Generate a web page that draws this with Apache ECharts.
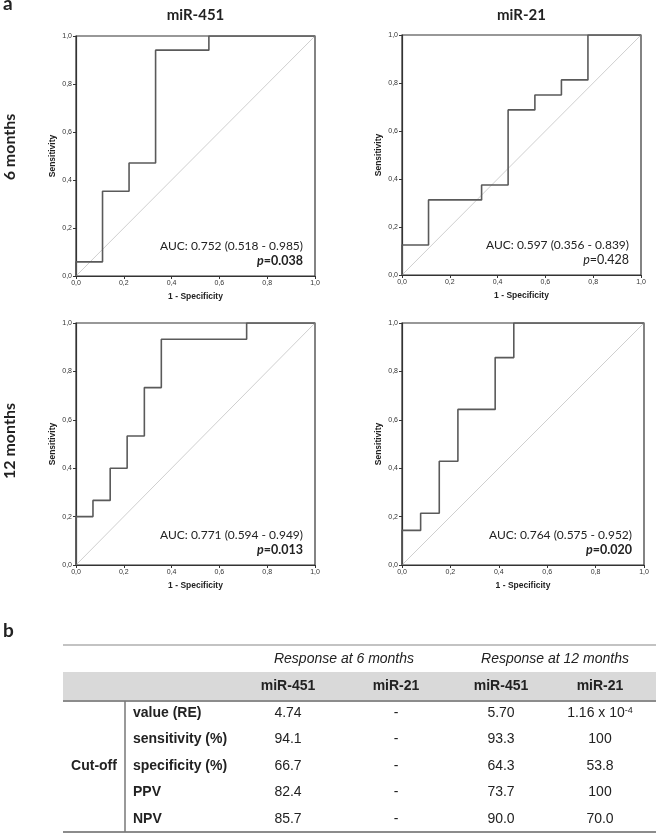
<!DOCTYPE html>
<html>
<head>
    <meta charset="UTF-8">
    <title>ROC miR-451 / miR-21</title>
    <script src="https://cdnjs.cloudflare.com/ajax/libs/echarts/6.0.0/echarts.min.js"></script>
    <style>
        body { margin: 0; background: #fff; }
        #chart { width: 658px; height: 834px; }
    </style>
</head>
<body>
<div id="chart"></div>
<script type="text/javascript">
    // ROC 曲线的点 (1 - 特异度, 灵敏度)
    var fpr451_6 = [0, 0, 0.111, 0.222, 0.333, 0.556, 1];
    var tpr451_6 = [0, 0.059, 0.353, 0.471, 0.941, 1, 1];
    var fpr21_6 = [0, 0, 0.111, 0.333, 0.444, 0.556, 0.667, 0.778, 1];
    var tpr21_6 = [0, 0.125, 0.313, 0.375, 0.688, 0.75, 0.813, 1, 1];
    var fpr451_12 = [0, 0, 0.071, 0.143, 0.214, 0.286, 0.357, 0.714, 1];
    var tpr451_12 = [0, 0.2, 0.267, 0.4, 0.533, 0.733, 0.933, 1, 1];
    var fpr21_12 = [0, 0, 0.077, 0.154, 0.231, 0.385, 0.462, 1];
    var tpr21_12 = [0, 0.143, 0.214, 0.429, 0.643, 0.857, 1, 1];

    var aucTexts = ['AUC: 0.752 (0.518 - 0.985)', 'AUC: 0.597 (0.356 - 0.839)',
                    'AUC: 0.771 (0.594 - 0.949)', 'AUC: 0.764 (0.575 - 0.952)'];
    var pValues = ['=0.038', '=0.428', '=0.013', '=0.020'];
    var pBold = [true, false, true, true];

    // 表格
    var groupHeads = ['Response at 6 months', 'Response at 12 months'];
    var colHeads = ['miR-451', 'miR-21', 'miR-451', 'miR-21'];
    var rowNames = ['value (RE)', 'sensitivity (%)', 'specificity (%)', 'PPV', 'NPV'];
    var col451_6 = ['4.74', '94.1', '66.7', '82.4', '85.7'];
    var col21_6 = ['-', '-', '-', '-', '-'];
    var col451_12 = ['5.70', '93.3', '64.3', '73.7', '90.0'];
    var col21_12 = ['1.16 x 10{sup|-4}', '100', '53.8', '100', '70.0'];

    var chart = echarts.init(document.getElementById('chart'));

    var grids = [
        {left: 76, top: 36, width: 239, height: 240},
        {left: 402, top: 35, width: 239, height: 240},
        {left: 76, top: 323, width: 239, height: 242},
        {left: 402, top: 323, width: 242, height: 242}
    ];
    var curves = [
        [fpr451_6, tpr451_6], [fpr21_6, tpr21_6],
        [fpr451_12, tpr451_12], [fpr21_12, tpr21_12]
    ];

    function pairs(xs, ys) {
        return xs.map(function (x, i) { return [x, ys[i]]; });
    }
    function tick(v) { return v.toFixed(1).replace('.', ','); }

    var xAxes = [], yAxes = [], series = [], graphics = [];
    var axisColor = '#333';
    grids.forEach(function (g, i) {
        g.show = true;
        g.borderColor = axisColor;
        g.borderWidth = 1.2;
        var common = {
            gridIndex: i, type: 'value', min: 0, max: 1, interval: 0.2,
            nameLocation: 'middle',
            nameTextStyle: {fontFamily: 'Liberation Sans', fontWeight: 'bold', fontSize: 8.5, color: '#222'},
            axisLine: {show: true, lineStyle: {color: axisColor, width: 1.2}},
            axisTick: {show: true, length: 3, lineStyle: {color: axisColor}},
            axisLabel: {fontFamily: 'Liberation Sans', fontSize: 7, color: '#333', formatter: tick, margin: 4},
            splitLine: {show: false}
        };
        xAxes.push(Object.assign({}, common, {name: '1 - Specificity', nameGap: 16}));
        yAxes.push(Object.assign({}, common, {name: 'Sensitivity', nameGap: 19}));
        // 参考线
        series.push({
            type: 'line', xAxisIndex: i, yAxisIndex: i, data: [[0, 0], [1, 1]],
            symbol: 'none', silent: true, lineStyle: {color: '#cfcfcf', width: 1}
        });
        series.push({
            type: 'line', xAxisIndex: i, yAxisIndex: i, step: 'end',
            data: pairs(curves[i][0], curves[i][1]),
            symbol: 'none', lineStyle: {color: '#5a5a5a', width: 1.6}
        });

        var right = g.left + g.width - 12;
        var bottom = g.top + g.height;
        graphics.push({
            type: 'text', x: right, y: bottom - 30,
            style: {text: aucTexts[i], font: '12px Lato', fill: '#222',
                    align: 'right', verticalAlign: 'middle', textAlign: 'right', textVerticalAlign: 'middle'}
        });
        var w = pBold[i] ? 'bold' : 'normal';
        graphics.push({
            type: 'text', x: right, y: bottom - 15.5,
            style: {text: '{pi|p}{v|' + pValues[i] + '}', fill: '#222',
                    align: 'right', verticalAlign: 'middle', textAlign: 'right', textVerticalAlign: 'middle',
                    rich: {
                        pi: {fontFamily: 'Lato', fontSize: 12.5, fontStyle: 'italic', fontWeight: w, fill: '#222'},
                        v: {fontFamily: 'Lato', fontSize: 12.5, fontWeight: w, fill: '#222'}
                    }}
        });
    });

    function txt(x, y, text, font, align, extra) {
        var el = {
            type: 'text', x: x, y: y,
            style: {text: text, font: font, fill: '#222',
                    align: align || 'center', verticalAlign: 'middle',
                    textAlign: align || 'center', textVerticalAlign: 'middle'}
        };
        if (extra) Object.assign(el.style, extra);
        return el;
    }

    // 面板标签与标题
    graphics.push(txt(3, 4, 'a', 'bold 19px Lato', 'left'));
    graphics.push(txt(3, 631, 'b', 'bold 19px Lato', 'left'));
    graphics.push(txt(195.5, 15, 'miR-451', 'bold 15px Lato'));
    graphics.push(txt(521.5, 15, 'miR-21', 'bold 15px Lato'));
    var r1 = txt(10, 147, '6 months', 'bold 16px Lato');
    r1.rotation = Math.PI / 2;
    graphics.push(r1);
    var r2 = txt(10, 441, '12 months', 'bold 16px Lato');
    r2.rotation = Math.PI / 2;
    graphics.push(r2);

    // 表格
    var tLeft = 63, tRight = 656;
    var colX = [288, 396, 501, 600];
    var rowY = [713, 739.5, 766, 792.5, 819];
    var tableFont = '14px "Liberation Sans"';
    var tableBold = 'bold 14px "Liberation Sans"';
    graphics.push({type: 'rect', shape: {x: tLeft, y: 672, width: tRight - tLeft, height: 28},
                   style: {fill: '#d9d9d9'}});
    graphics.push({type: 'line', shape: {x1: tLeft, y1: 645, x2: tRight, y2: 645},
                   style: {stroke: '#888', lineWidth: 1.2}});
    graphics.push({type: 'line', shape: {x1: tLeft, y1: 701, x2: tRight, y2: 701},
                   style: {stroke: '#666', lineWidth: 1.5}});
    graphics.push({type: 'line', shape: {x1: tLeft, y1: 832, x2: tRight, y2: 832},
                   style: {stroke: '#666', lineWidth: 1.5}});
    graphics.push({type: 'line', shape: {x1: 125, y1: 701, x2: 125, y2: 832},
                   style: {stroke: '#777', lineWidth: 1.5}});
    graphics.push(txt(344, 659, groupHeads[0], 'italic 14px "Liberation Sans"'));
    graphics.push(txt(555, 659, groupHeads[1], 'italic 14px "Liberation Sans"'));
    colHeads.forEach(function (h, i) { graphics.push(txt(colX[i], 686, h, tableBold)); });
    graphics.push(txt(94, 766, 'Cut-off', tableBold));
    var cols = [col451_6, col21_6, col451_12, col21_12];
    rowNames.forEach(function (r, j) {
        graphics.push(txt(133, rowY[j], r, tableBold, 'left'));
        cols.forEach(function (c, i) {
            graphics.push(txt(colX[i], rowY[j], c[j], tableFont, 'center', {
                rich: {sup: {fontFamily: 'Liberation Sans', fontSize: 9, verticalAlign: 'top', fill: '#222'}}
            }));
        });
    });

    var option = {
        backgroundColor: '#fff',
        animation: false,
        grid: grids,
        xAxis: xAxes,
        yAxis: yAxes,
        series: series,
        graphic: graphics
    };
    chart.setOption(option);
</script>
</body>
</html>
